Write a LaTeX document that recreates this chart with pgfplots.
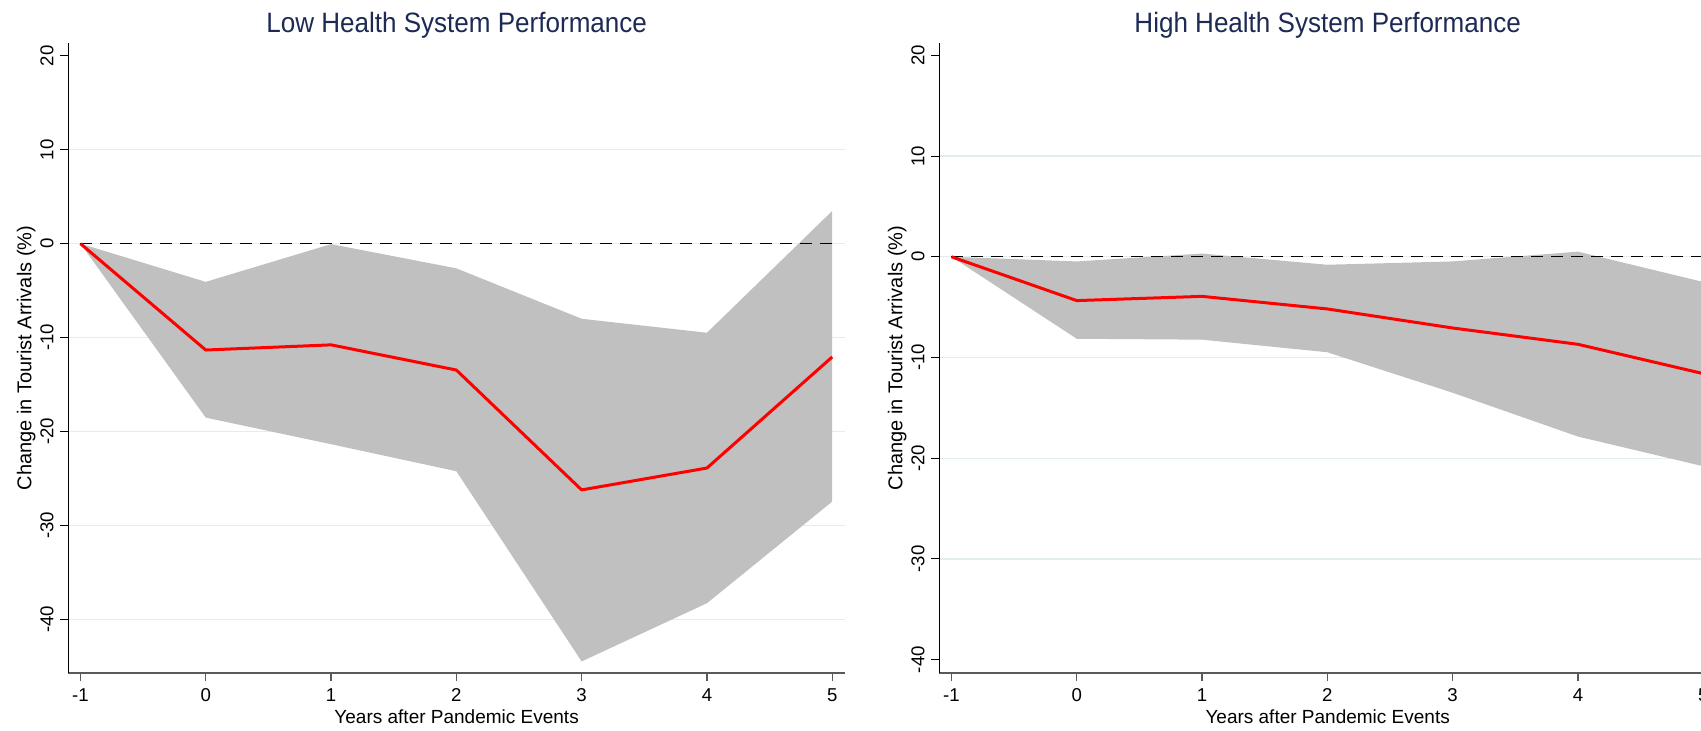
\documentclass[border=0pt]{standalone}
\usepackage{fontspec}
\setmainfont{Liberation Sans}
\newfontfamily\titlefont[FakeStretch=0.93]{Liberation Sans}
\usepackage{pgfplots}
\pgfplotsset{compat=1.18}
\usepackage{pgfplotstable}
\usepgfplotslibrary{fillbetween}

\definecolor{bandgray}{RGB}{192,192,192}
\definecolor{titlenavy}{RGB}{28,42,84}
\definecolor{gridblue}{RGB}{226,237,240}
\definecolor{axisgray}{RGB}{90,90,90}

% Impulse responses: point estimate with lower/upper confidence bounds
\pgfplotstableread{
x   est     lo      hi
-1  0       0       0
0   -11.33  -18.53  -4.07
1   -10.78  -21.36  -0.05
2   -13.46  -24.24  -2.63
3   -26.23  -44.50  -8.00
4   -23.90  -38.30  -9.49
5   -12.07  -27.47  3.48
}\lowtab

\pgfplotstableread{
x   est     lo      hi
-1  0       0       0
0   -4.35   -8.14   -0.46
1   -3.93   -8.23   0.32
2   -5.18   -9.48   -0.79
3   -7.07   -13.50  -0.46
4   -8.69   -17.85  0.51
5   -11.60  -20.80  -2.50
}\hightab

\pgfplotsset{
  panel/.style={
    scale only axis,
    width=388.35pt, height=314.7pt,
    anchor=south west,
    axis x line*=bottom,
    axis y line*=left,
    x axis line style={axisgray, line width=0.9pt},
    y axis line style={black, line width=0.5pt},
    xmin=-1.097, xmax=5.102,
    xtick={-1,0,...,5},
    ytick={-40,-30,...,20},
    tick align=outside,
    major tick length=4pt,
    xtick style={axisgray, line width=0.6pt},
    ytick style={black, line width=0.5pt},
    extra y tick style={grid=major, major tick length=0pt},
    extra y tick labels={},
    major grid style={gridblue, line width=0.6pt},
    /pgf/number format/assume math mode=true,
    tick label style={font=\fontsize{9.3pt}{11pt}\selectfont, inner sep=0pt},
    xticklabel style={anchor=base, yshift=-10.5pt},
    yticklabel style={xshift=-3.5pt, rotate=90, anchor=base},
    every axis title/.style={at={(axis description cs:0.5,1)}, anchor=base,
      yshift=5.5pt, font=\titlefont\fontsize{14pt}{16pt}\selectfont, text=titlenavy},
    every axis x label/.style={at={(axis description cs:0.5,0)}, anchor=base,
      yshift=-25.4pt, font=\fontsize{9.5pt}{11pt}\selectfont},
    every axis y label/.style={at={(axis description cs:0,0.5)}, xshift=-18.5pt,
      rotate=90, anchor=base, font=\fontsize{10pt}{12pt}\selectfont},
    xlabel={Years after Pandemic Events},
    ylabel={Change in Tourist Arrivals (\%)},
  },
  ci/.style={draw=none, forget plot},
  est/.style={red, line width=1.5pt, line join=round},
  zero/.style={black, line width=0.6pt, dash pattern=on 6pt off 4pt},
}

\begin{document}
\begin{tikzpicture}
% Low health system performance
\begin{axis}[panel, at={(34.15pt,28.65pt)},
  ymin=-45.7, ymax=21.34,
  extra y ticks={-40,-30,-20,-10,0,10},
  title={Low Health System Performance}]
  \addplot[ci, name path=hiL] table[x=x, y=hi]{\lowtab};
  \addplot[ci, name path=loL] table[x=x, y=lo]{\lowtab};
  \addplot[bandgray, draw=none] fill between[of=hiL and loL];
  \addplot[zero] coordinates {(-1,0) (5,0)};
  \addplot[est] table[x=x, y=est]{\lowtab};
\end{axis}

% High health system performance
\begin{axis}[panel, at={(469.65pt,28.65pt)},
  ymin=-41.3, ymax=21.2,
  extra y ticks={-30,-20,-10,0,10},
  title={High Health System Performance}]
  \addplot[ci, name path=hiH] table[x=x, y=hi]{\hightab};
  \addplot[ci, name path=loH] table[x=x, y=lo]{\hightab};
  \addplot[bandgray, draw=none] fill between[of=hiH and loH];
  \addplot[zero] coordinates {(-1,0) (5,0)};
  \addplot[est] table[x=x, y=est]{\hightab};
\end{axis}

% page frame: the right panel runs past the right edge
\pgfresetboundingbox
\useasboundingbox (0,0) rectangle (850.5pt,365pt);
\end{tikzpicture}
\end{document}
